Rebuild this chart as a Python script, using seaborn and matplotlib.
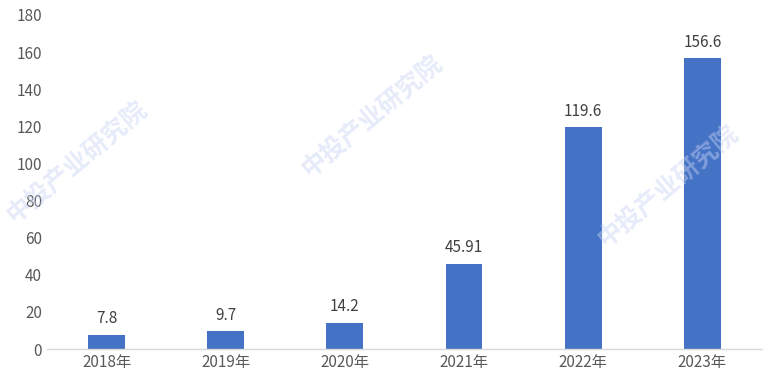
import numpy as np
import pandas as pd
import matplotlib
matplotlib.use('Agg')
import matplotlib.pyplot as plt
import seaborn as sns

years = ['2018年', '2019年', '2020年', '2021年', '2022年', '2023年']
values = [7.8, 9.7, 14.2, 45.91, 119.6, 156.6]
value_labels = ['7.8', '9.7', '14.2', '45.91', '119.6', '156.6']
yticks = [0, 20, 40, 60, 80, 100, 120, 140, 160, 180]

sns.set_style('white')
plt.rcParams['font.family'] = ['Noto Sans CJK SC', 'DejaVu Sans']

df = pd.DataFrame({'year': years, 'value': values})

fig = plt.figure(figsize=(7.77, 3.88), dpi=100)
ax = fig.add_axes([0.0605, 0.1005, 0.92, 0.861])

sns.barplot(data=df, x='year', y='value', color='#4472C4', width=0.31,
            saturation=1, linewidth=0, ax=ax)

for i, (v, lab) in enumerate(zip(values, value_labels)):
    ax.text(i, v + 4, lab, ha='center', va='bottom', fontsize=11, color='#404040')

# watermark
for (x, y) in [(0.10, 0.58), (0.48, 0.70), (0.86, 0.52)]:
    fig.text(x, y, '中投产业研究院', rotation=40, fontsize=18, color='#c9d3f5',
             alpha=0.45, ha='center', va='center', fontweight='bold', zorder=0)

ax.set_ylim(0, 180)
ax.set_xlim(-0.5, 5.5)
ax.set_yticks(yticks)
ax.set_xlabel('')
ax.set_ylabel('')
ax.tick_params(axis='both', length=0, labelsize=11, colors='#595959')
for s in ['top', 'right', 'left']:
    ax.spines[s].set_visible(False)
ax.spines['bottom'].set_color('#d9d9d9')
ax.spines['bottom'].set_linewidth(1)

plt.savefig('out.png', dpi=100)
plt.close()
